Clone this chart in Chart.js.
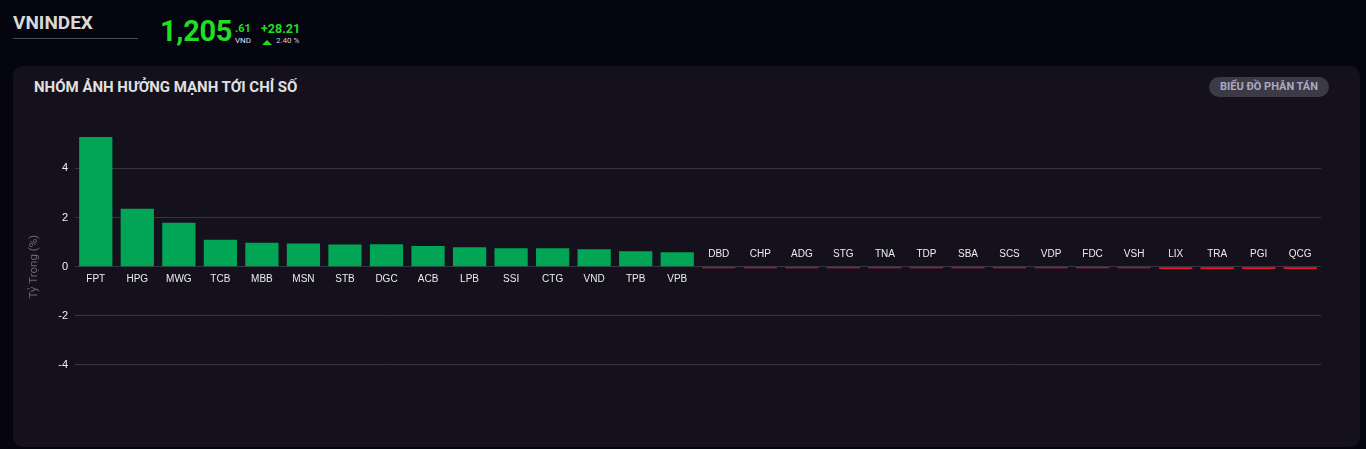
<!DOCTYPE html>
<html><head><meta charset="utf-8">
<script src="https://cdn.jsdelivr.net/npm/chart.js@4.4.1/dist/chart.umd.min.js"></script>
<style>
html,body{margin:0;padding:0;background:#05050f;width:1366px;height:449px;overflow:hidden;font-family:Roboto,"Noto Sans",sans-serif;}
.abs{position:absolute;white-space:nowrap;}
#card{position:absolute;left:13px;top:66px;width:1347px;height:381px;background:#15111c;border-radius:10px;}
#btn{position:absolute;left:1209px;top:77px;width:120px;height:20px;border-radius:10px;background:#3d3a48;color:#a9aabd;font-weight:700;font-size:11px;line-height:20px;text-align:center;}
#cv{position:absolute;left:13px;top:120px;}
</style></head><body>
<div class="abs" style="left:13px;top:11px;font-size:19px;font-weight:700;color:#d8d8d8;">VNINDEX</div>
<div class="abs" style="left:13px;top:38px;width:125px;height:1px;background:#4a4a55;"></div>
<div class="abs" style="left:160px;top:14px;font-size:29px;font-weight:700;color:#22dd22;letter-spacing:-0.3px;">1,205</div>
<div class="abs" style="left:235px;top:22px;font-size:11px;font-weight:700;color:#22dd22;">.61</div>
<div class="abs" style="left:235px;top:36px;font-size:8px;color:#e0e0e0;">VND</div>
<div class="abs" style="left:261px;top:21px;font-size:12.5px;font-weight:700;color:#22dd22;">+28.21</div>
<div class="abs" style="left:262px;top:40px;width:0;height:0;border-left:5px solid transparent;border-right:5px solid transparent;border-bottom:5px solid #22dd22;"></div>
<div class="abs" style="left:276px;top:36px;font-size:8px;color:#d0d0d0;">2.40 %</div>
<div id="card"></div>
<div class="abs" style="left:34px;top:78px;font-size:15px;font-weight:700;color:#e0e0e0;">NHÓM ẢNH HƯỞNG MẠNH TỚI CHỈ SỐ</div>
<div id="btn">BIỂU ĐỒ PHÂN TÁN</div>
<canvas id="cv" width="1308" height="290" style="width:1308px;height:290px;"></canvas>
<script>
const categories = ["FPT","HPG","MWG","TCB","MBB","MSN","STB","DGC","ACB","LPB","SSI","CTG","VND","TPB","VPB","DBD","CHP","ADG","STG","TNA","TDP","SBA","SCS","VDP","FDC","VSH","LIX","TRA","PGI","QCG"];
const weights = [5.28,2.36,1.79,1.10,0.98,0.94,0.90,0.91,0.84,0.79,0.75,0.75,0.71,0.63,0.59,-0.06,-0.06,-0.06,-0.06,-0.06,-0.06,-0.06,-0.06,-0.06,-0.06,-0.06,-0.09,-0.09,-0.09,-0.09];
const yTicks = [-4,-2,0,2,4];
const yMax = 5.28;

const labelPlugin = {
  id:'catLabels',
  afterDatasetsDraw(chart){
    const ctx = chart.ctx;
    const meta = chart.getDatasetMeta(0);
    const y0 = chart.scales.y.getPixelForValue(0);
    ctx.save();
    ctx.font = '10px "Liberation Sans", Arial, sans-serif';
    ctx.fillStyle = '#ececec';
    ctx.textAlign = 'center';
    ctx.textBaseline = 'middle';
    meta.data.forEach((bar,i)=>{
      const v = weights[i];
      const y = v >= 0 ? y0 + 12.5 : y0 - 12.5;
      ctx.fillText(categories[i], bar.x, y);
    });
    ctx.restore();
  }
};

new Chart(document.getElementById('cv'), {
  type:'bar',
  data:{labels:categories, datasets:[{data:weights,
    backgroundColor: weights.map(v=> v>=0 ? '#00a556' : '#ee1230'),
    borderWidth:0, categoryPercentage:1, barPercentage:0.8, minBarLength:1.5}]},
  options:{
    responsive:false, animation:false,
    layout:{padding:{top:17,bottom:13,left:0,right:0}},
    plugins:{legend:{display:false}, tooltip:{enabled:false}},
    scales:{
      x:{display:false},
      y:{min:-yMax, max:yMax,
        afterBuildTicks:s=>{ s.ticks = yTicks.map(v=>({value:v})); },
        afterFit:s=>{ s.width = 62; },
        grid:{color:'#38343f', drawTicks:false, lineWidth:1},
        border:{display:false},
        ticks:{padding:7, color:'#f0f0f0', font:{family:'"Liberation Sans", Arial, sans-serif', size:11}},
        title:{display:true, text:'Tỷ Trọng (%)', color:'#6a6870', padding:{top:14,bottom:4},
          font:{family:'Roboto, sans-serif', size:11.5}}
      }
    }
  },
  plugins:[labelPlugin]
});
</script>
</body></html>
